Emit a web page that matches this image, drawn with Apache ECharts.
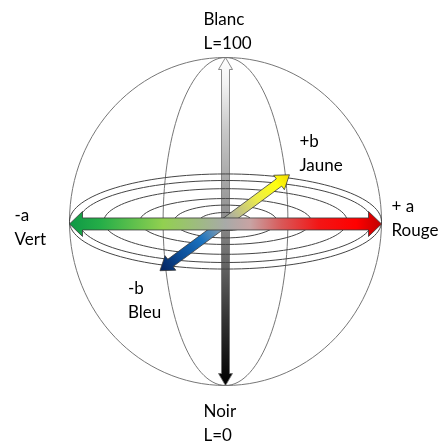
<!DOCTYPE html>
<html><head><meta charset="utf-8">
<script src="https://cdn.jsdelivr.net/npm/echarts@6/dist/echarts.min.js"></script>
<style>html,body{margin:0;padding:0;background:#fff}#c{width:442px;height:445px}</style>
</head><body><div id="c"></div>
<script>
// Diagram units: sphere radius = 100 on both axes
const sphereR = [100, 100];
const meridianR = [40, 100];
const ringA = [100, 94, 78, 55, 33, 17];   // ring half-widths (a-b plane)
const ringB = [29, 25, 20, 14, 10, 5.5];   // ring half-heights (perspective)
// arrows: [fromX, fromY, toX, toY]
const lArrow = [0, -100, 0, 100];          // Noir -> Blanc
const aArrow = [-100, -1.5, 100, -1.5];    // Vert -> Rouge
const bArrow = [-42, -30, 41, 28.5];       // Bleu -> Jaune
const lLabels = ['Noir\nL=0', 'Blanc\nL=100'];
const aLabels = ['-a\nVert', '+ a\nRouge'];
const bLabels = ['-b\nBleu', '+b\nJaune'];

const chart = echarts.init(document.getElementById('c'), null, {renderer: 'canvas'});

function arrowPoly(p0, p1, w, hw, hl) {
  const dx = p1[0] - p0[0], dy = p1[1] - p0[1], L = Math.hypot(dx, dy);
  const ux = dx / L, uy = dy / L, nx = -uy, ny = ux;
  const P = (p, a, b) => [p[0] + ux * a + nx * b, p[1] + uy * a + ny * b];
  return [p0, P(p0, hl, hw), P(p0, hl, w), P(p1, -hl, w), P(p1, -hl, hw), p1,
          P(p1, -hl, -hw), P(p1, -hl, -w), P(p0, hl, -w), P(p0, hl, -hw)];
}

function arrowSeries(arr, z, w, hw, hl, stops, stroke) {
  return {
    type: 'custom', z: z, silent: true, clip: false,
    data: [arr],
    renderItem: function (params, api) {
      const p0 = api.coord([api.value(0), api.value(1)]);
      const p1 = api.coord([api.value(2), api.value(3)]);
      return {
        type: 'polygon',
        shape: {points: arrowPoly(p0, p1, w, hw, hl)},
        style: {
          fill: new echarts.graphic.LinearGradient(p0[0], p0[1], p1[0], p1[1], stops, true),
          stroke: stroke, lineWidth: 0.8
        }
      };
    }
  };
}

const ellipseData = [[0, 0, sphereR[0], sphereR[1], 0], [0, 0, meridianR[0], meridianR[1], 1]];
ringA.forEach((a, i) => ellipseData.push([0, 0, a, ringB[i], 2]));

const labelData = [
  [lArrow[0], lArrow[1], 0], [lArrow[2], lArrow[3], 1],
  [aArrow[0], aArrow[1], 2], [aArrow[2], aArrow[3], 3],
  [bArrow[0], bArrow[1], 4], [bArrow[2], bArrow[3], 5]
];
const labelTexts = [lLabels[0], lLabels[1], aLabels[0], aLabels[1], bLabels[0], bLabels[1]];
const labelOffsets = [[-22, 38], [-22, -26], [-55, 3.5], [10, -5], [-32, 30], [10, -21.5]];

chart.setOption({
  animation: false,
  backgroundColor: '#ffffff',
  grid: {left: 69.5, top: 57.5, width: 312, height: 328},
  xAxis: {type: 'value', min: -100, max: 100, show: false},
  yAxis: {type: 'value', min: -100, max: 100, show: false},
  series: [
    arrowSeries(lArrow, 1, 4, 7, 12, [
      {offset: 0, color: '#000000'}, {offset: 0.2, color: '#333333'},
      {offset: 0.5, color: '#8c8c8c'}, {offset: 0.78, color: '#c8c8c8'},
      {offset: 0.92, color: '#f2f2f2'}, {offset: 1, color: '#ffffff'}
    ], '#6f6f6f'),
    {
      type: 'custom', z: 2, silent: true, clip: false,
      data: ellipseData,
      renderItem: function (params, api) {
        const c = api.coord([api.value(0), api.value(1)]);
        const s = api.size([api.value(2), api.value(3)]);
        const kind = api.value(4);
        return {
          type: 'ellipse',
          shape: {cx: c[0], cy: c[1], rx: s[0], ry: s[1]},
          style: {fill: 'none', stroke: kind === 2 ? '#454545' : '#777777', lineWidth: 1}
        };
      }
    },
    arrowSeries(bArrow, 3, 4.5, 9, 13, [
      {offset: 0, color: '#04215c'}, {offset: 0.15, color: '#0b4b95'},
      {offset: 0.32, color: '#1a72bf'}, {offset: 0.47, color: '#8ea2b0'},
      {offset: 0.56, color: '#b2b29c'}, {offset: 0.75, color: '#ecec4a'},
      {offset: 0.9, color: '#ffff10'}, {offset: 1, color: '#f2d800'}
    ], '#3a3a3a'),
    arrowSeries(aArrow, 4, 6, 12.5, 13, [
      {offset: 0, color: '#0e9845'}, {offset: 0.1, color: '#25ae48'},
      {offset: 0.3, color: '#92d050'}, {offset: 0.5, color: '#a8aaa8'},
      {offset: 0.58, color: '#c8a3a3'}, {offset: 0.68, color: '#d95858'},
      {offset: 0.8, color: '#f31515'}, {offset: 0.92, color: '#ff0000'},
      {offset: 1, color: '#c00000'}
    ], '#3a3a3a'),
    {
      type: 'custom', z: 5, silent: true, clip: false,
      data: labelData,
      renderItem: function (params, api) {
        const p = api.coord([api.value(0), api.value(1)]);
        const i = api.value(2);
        const o = labelOffsets[i];
        return {
          type: 'text',
          style: {
            text: labelTexts[i], x: p[0] + o[0], y: p[1] + o[1],
            fill: '#000000', font: '17px Lato',
            textAlign: 'left', textVerticalAlign: 'middle', lineHeight: 24
          }
        };
      }
    }
  ]
});
</script>
</body></html>
